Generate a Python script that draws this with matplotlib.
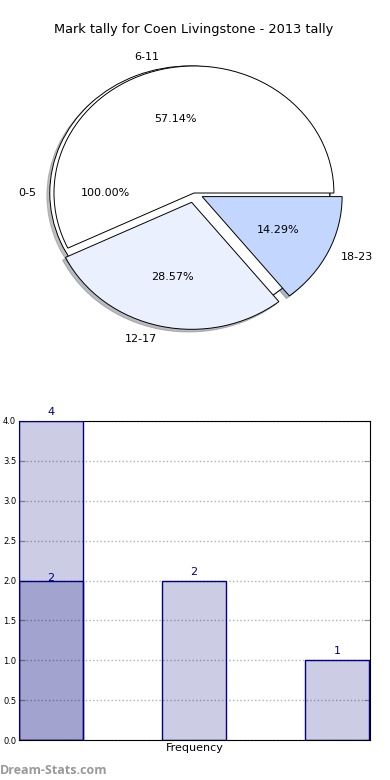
import numpy as np
import matplotlib
matplotlib.use("Agg")
import matplotlib.pyplot as plt

title = "Mark tally for Coen Livingstone - 2013 tally"
groups = ["6-11", "12-17", "18-23"]
counts = [4, 2, 1]
pcts = ["57.14%", "28.57%", "14.29%"]
full_label = "0-5"
full_pct = "100.00%"
overlap = [2]
yticks = [0.0, 0.5, 1.0, 1.5, 2.0, 2.5, 3.0, 3.5, 4.0]

fig = plt.figure(figsize=(3.9, 7.8), dpi=100)

# pie part
shadow = dict(ox=-0.015, oy=-0.015, shade=0.5)
ax = fig.add_axes([0.0128, 0.5327, 0.969, 0.4397])
ax.pie([1], labels=[full_label], colors=["white"], explode=[0.03],
       shadow=shadow, autopct=lambda p: full_pct,
       wedgeprops=dict(edgecolor="black", linewidth=0.7),
       textprops=dict(fontsize=8))
it = iter(pcts)
ax.pie(counts, labels=groups, colors=["white", "#eaf0fe", "#c2d6fe"],
       explode=[0, 0.075, 0.065], shadow=shadow,
       autopct=lambda p: next(it),
       wedgeprops=dict(edgecolor="black", linewidth=0.7),
       textprops=dict(fontsize=8))
ax.set_aspect("auto")
ax.set_xlim(-1.35, 1.35)
ax.set_ylim(-1.35, 1.35)
fig.text(194 / 390, 1 - 30 / 780, title, ha="center", va="center", fontsize=9.3)

# bar part
bx = fig.add_axes([19 / 390, 40 / 780, 351 / 390, 319 / 780])
x = np.arange(len(counts))
bx.bar(x, counts, width=0.45, align="edge", color="navy", alpha=0.2, zorder=2)
bx.bar(x, counts, width=0.45, align="edge", fill=False, edgecolor="navy", linewidth=1, zorder=3)
bx.bar(x[:len(overlap)], overlap, width=0.45, align="edge", color="navy", alpha=0.2, zorder=2)
bx.bar(x[:len(overlap)], overlap, width=0.45, align="edge", fill=False, edgecolor="navy", linewidth=1, zorder=3)
for xi, v in zip(x, counts):
    bx.text(xi + 0.225, v + 0.05, str(v), ha="center", va="bottom", color="navy", fontsize=8)
for xi, v in zip(x, overlap):
    bx.text(xi + 0.225, v - 0.03, str(v), ha="center", va="bottom", color="navy", fontsize=8)
bx.set_xlim(0, 2.455)
bx.set_ylim(0, 4)
bx.set_yticks(yticks)
bx.set_yticklabels(["%.1f" % t for t in yticks], fontsize=6)
bx.set_xticks([])
bx.set_xlabel("Frequency", fontsize=8, labelpad=2)
bx.yaxis.grid(True, linestyle=":", color="#b0b0b0", linewidth=1, zorder=0)
bx.tick_params(axis="y", direction="in", length=4, color="#999999", pad=2, right=True)
bx.set_axisbelow(True)

fig.text(0.0, 1 - 770 / 780, "Dream-Stats.com", ha="left", va="center",
         fontsize=9, color="#999999", family="Open Sans", fontweight="bold")

fig.savefig("out.png", dpi=100)
